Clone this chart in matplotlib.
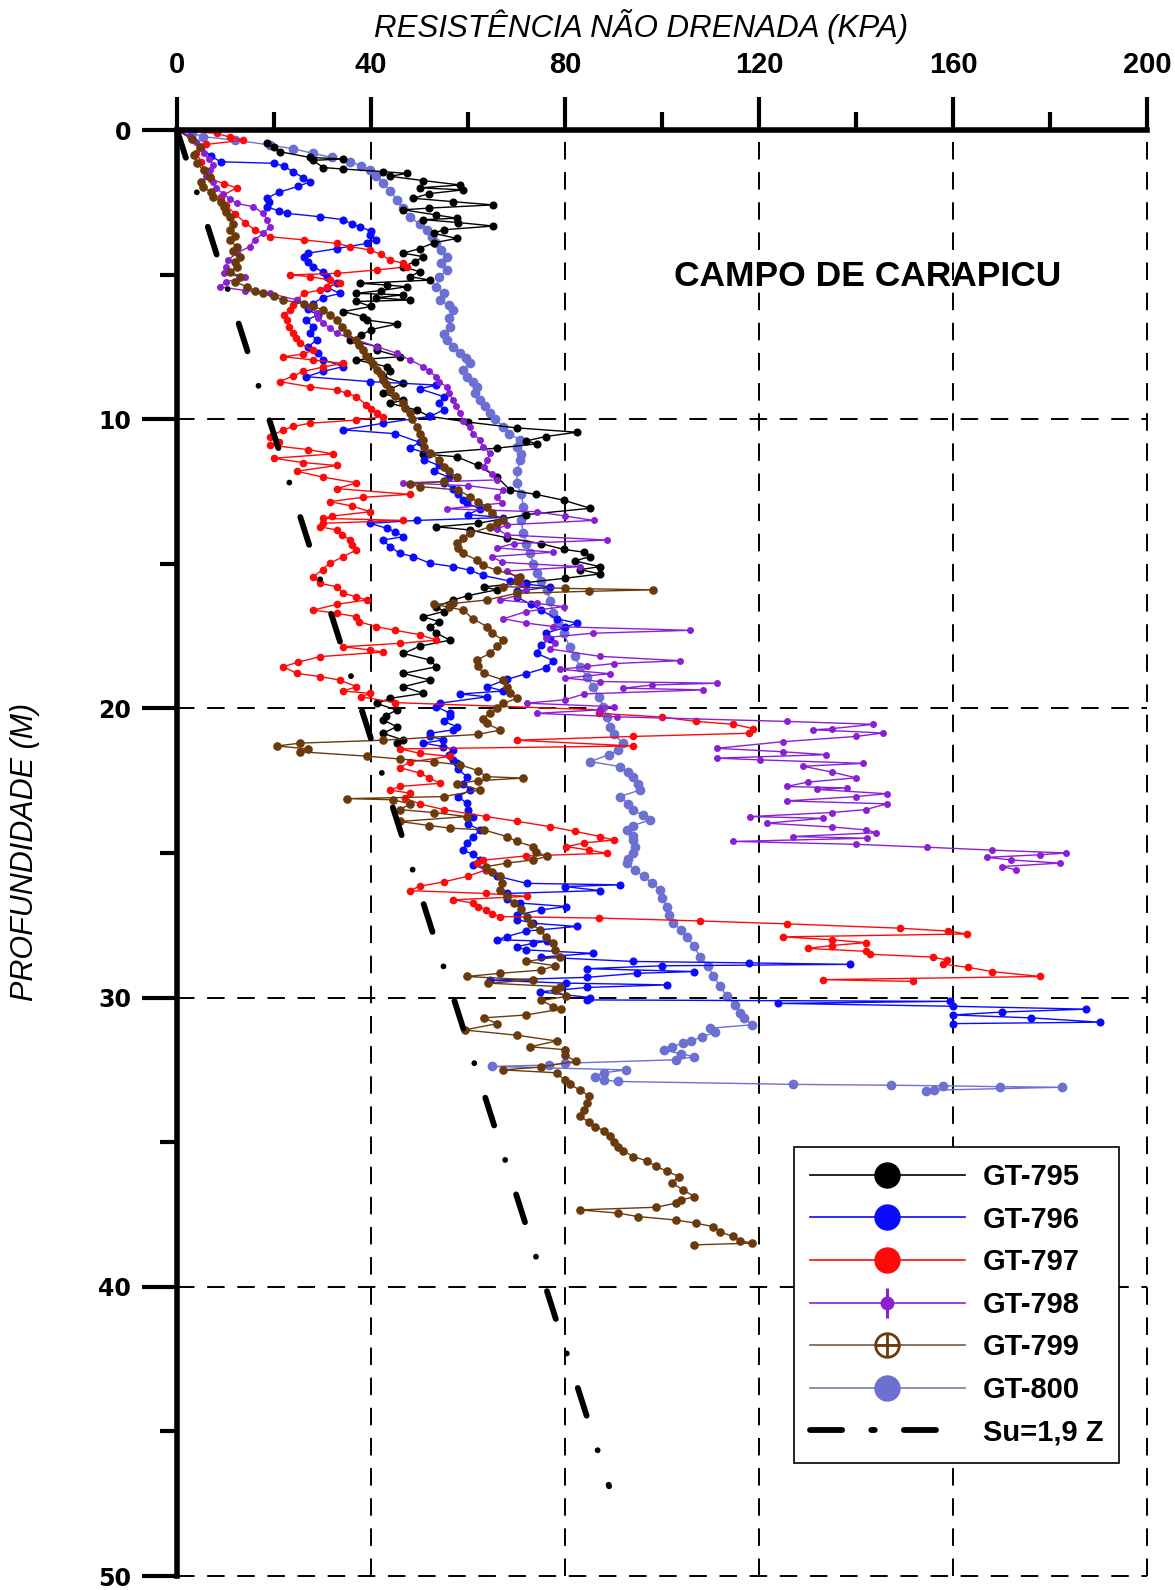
import numpy as np
import matplotlib.pyplot as plt
from matplotlib.lines import Line2D
from matplotlib.legend_handler import HandlerTuple

# pairs of (depth m, Su kPa)
gt795 = np.array([
    [0.46, 18.5], [0.6, 20], [0.75, 21.2], [0.95, 27.4], [1.0, 34.3], [1.05, 28], [1.3, 30.2],
    [1.35, 34.3], [1.44, 42.5], [1.5, 47.4], [1.6, 43.9], [1.75, 50.8], [1.9, 58.4], [2.0, 50.1],
    [2.07, 59], [2.2, 52], [2.36, 48.7], [2.48, 57], [2.59, 65.2], [2.7, 52], [2.76, 46.7],
    [2.94, 53.5], [3.05, 57.7], [3.1, 50.8], [3.2, 58], [3.32, 65.2], [3.45, 55], [3.57, 52.9],
    [3.75, 57.7], [3.9, 53], [4.1, 50], [4.26, 46.7], [4.38, 50.8], [4.55, 49], [4.73, 46.7],
    [4.9, 50], [5.07, 48], [5.19, 52.2], [5.3, 37.7], [5.36, 43.2], [5.42, 47.4], [5.55, 42],
    [5.65, 37], [5.7, 46.7], [5.8, 41], [5.88, 48], [5.93, 37], [6.1, 40], [6.28, 34.3],
    [6.45, 38.4], [6.57, 39.1], [6.71, 45.3], [6.9, 40], [7.1, 38], [7.26, 35.7], [7.49, 41.2],
    [7.61, 41.2], [7.84, 46], [7.95, 37], [8.18, 43.2], [8.35, 44], [8.53, 42.5], [8.76, 46.7],
    [8.95, 44], [9.1, 42.5], [9.34, 46.7], [9.45, 43.9], [9.68, 49.4], [9.9, 52], [10.1, 60],
    [10.3, 70], [10.45, 82.4], [10.6, 76], [10.75, 72], [10.85, 74.2], [11.0, 66], [11.2, 50.8],
    [11.3, 57.7], [11.6, 62], [12.0, 66], [12.45, 68.7], [12.6, 74], [12.8, 79.7], [13.08, 85.2],
    [13.3, 72], [13.6, 62], [13.72, 53.5], [13.83, 60.4], [14.1, 68], [14.3, 75], [14.5, 79.7],
    [14.6, 84], [14.75, 85.2], [14.9, 82], [15.1, 87.2], [15.2, 83.1], [15.35, 87.2], [15.5, 80],
    [15.65, 72], [15.8, 63.2], [15.9, 65.9], [16.1, 60], [16.25, 57], [16.48, 53.5], [16.65, 55],
    [16.83, 50.8], [17.0, 54], [17.17, 52.2], [17.4, 53.5], [17.64, 56.3], [17.85, 50],
    [18.1, 46.7], [18.33, 52.2], [18.56, 53.5], [18.79, 46.7], [19.02, 52.2], [19.25, 46.7],
    [19.48, 50.8], [19.65, 44], [19.83, 41.2], [20.06, 45.3], [20.25, 43], [20.4, 42.5],
    [20.63, 45.3], [20.86, 42.5], [21.1, 46.7], [21.2, 45.3],
])

gt796 = np.array([
    [0.0, 0], [0.3, 3], [0.6, 5], [0.9, 7], [1.1, 9], [1.15, 20], [1.25, 22], [1.45, 24],
    [1.65, 26], [1.79, 27.4], [1.95, 25], [2.15, 21], [2.36, 18.5], [2.5, 19], [2.65, 18.5],
    [2.8, 21], [2.88, 22.6], [3.0, 29.5], [3.1, 34.3], [3.25, 36], [3.34, 37.7], [3.5, 40],
    [3.63, 39.8], [3.8, 41], [3.92, 39.1], [4.1, 33], [4.26, 27], [4.38, 26.1], [4.55, 27],
    [4.73, 28.1], [4.9, 30], [5.07, 30.9], [5.3, 32.9], [5.45, 31], [5.65, 33.6], [5.8, 30],
    [6.0, 28], [6.2, 27], [6.4, 29], [6.57, 26.7], [6.8, 28], [7.03, 27.4], [7.26, 28.8],
    [7.5, 27], [7.7, 29], [7.95, 30.2], [8.18, 34.3], [8.35, 30], [8.53, 26.7], [8.7, 39.8],
    [8.82, 53.5], [8.95, 50], [9.22, 55], [9.45, 54], [9.68, 55], [9.9, 52.2], [10.14, 42.5],
    [10.37, 34.3], [10.5, 45], [10.8, 50], [11.0, 48], [11.2, 52], [11.4, 51], [11.6, 54],
    [11.8, 53], [12.0, 56], [12.2, 55], [12.4, 57], [12.6, 58], [12.8, 59], [12.9, 59.7],
    [13.1, 62.5], [13.3, 60], [13.4, 67.3], [13.5, 49.4], [13.6, 39.8], [13.77, 43.2],
    [13.9, 45], [14.06, 46.7], [14.18, 42.5], [14.41, 43.9], [14.64, 46], [14.75, 48.7],
    [14.98, 52.2], [15.1, 57], [15.22, 60.4], [15.4, 63], [15.6, 68.7], [15.7, 72], [15.8, 76.9],
    [15.95, 70], [16.15, 70], [16.4, 73], [16.6, 75], [16.9, 78.3], [17.05, 82.4], [17.2, 80],
    [17.4, 76], [17.6, 77], [17.8, 75], [18.1, 74.2], [18.35, 77.6], [18.6, 76], [18.8, 72],
    [19.0, 68], [19.25, 64], [19.4, 67.3], [19.5, 58.4], [19.6, 63.9], [19.82, 54.2],
    [19.94, 53.5], [20.17, 56.3], [20.28, 56.3], [20.45, 55], [20.63, 57.7], [20.74, 57],
    [20.86, 52.2], [20.97, 52.2], [21.09, 54.9], [21.2, 50.8], [21.32, 54.9], [21.43, 57],
    [21.6, 56], [21.79, 57], [21.9, 57.7], [22.1, 58], [22.36, 59.7], [22.6, 59], [22.82, 60.4],
    [23.05, 58], [23.28, 59.7], [23.5, 60], [23.74, 61.1], [24.0, 60], [24.2, 62.5], [24.45, 61],
    [24.66, 59.7], [24.89, 59.0], [25.05, 61], [25.24, 62.5], [25.4, 61], [25.58, 63.8],
    [25.8, 66], [26.05, 72.1], [26.1, 91.3], [26.16, 80], [26.3, 87.2], [26.4, 68], [26.6, 68],
    [26.73, 70.7], [26.85, 80.3], [26.97, 75], [27.15, 70], [27.3, 70], [27.43, 73.5],
    [27.54, 82.4], [27.7, 72], [27.89, 68], [28.0, 66], [28.05, 76.2], [28.12, 73.5],
    [28.24, 70], [28.35, 72], [28.47, 85.8], [28.6, 75], [28.75, 94], [28.8, 118], [28.85, 138.7],
    [28.9, 100], [29.0, 84.6], [29.1, 106.7], [29.16, 94.8], [29.3, 84.5], [29.4, 64.5],
    [29.5, 80.3], [29.56, 101], [29.65, 84.5], [29.8, 74.8], [30.0, 85.2], [30.08, 84.6],
    [30.13, 159.4], [30.2, 124], [30.3, 160], [30.4, 187.5], [30.5, 170], [30.6, 160],
    [30.7, 176], [30.85, 190.3], [30.9, 160],
])

gt797 = np.array([
    [0.0, 0], [0.12, 8.2], [0.25, 11], [0.35, 13.7], [0.5, 6], [0.8, 4], [1.1, 5], [1.4, 5.5],
    [1.7, 7], [1.85, 9.6], [2.0, 12.3], [2.3, 9], [2.6, 10], [2.9, 12], [3.2, 14], [3.45, 16],
    [3.69, 19.2], [3.8, 26.1], [3.92, 32.9], [4.03, 35.7], [4.15, 39.8], [4.3, 42], [4.5, 43.9],
    [4.61, 46.7], [4.73, 47.4], [4.84, 41.2], [4.96, 32.9], [5.01, 23.3], [5.07, 27.4],
    [5.19, 31.5], [5.3, 33.6], [5.42, 31], [5.53, 29.5], [5.65, 26.1], [5.88, 24.7], [6.05, 24],
    [6.22, 23.3], [6.4, 22], [6.57, 22.6], [6.8, 23], [7.03, 24], [7.2, 24.5], [7.38, 25.4],
    [7.61, 28.1], [7.75, 26], [7.84, 21.9], [7.95, 28], [8.07, 34.3], [8.2, 30], [8.35, 26],
    [8.5, 24], [8.7, 21.2], [8.88, 27.4], [8.99, 32.9], [9.1, 35], [9.22, 37], [9.5, 39],
    [9.65, 40], [9.8, 41.2], [9.91, 42.5], [10.03, 37], [10.14, 27.4], [10.25, 24],
    [10.37, 21.9], [10.6, 19.2], [10.8, 21], [10.9, 19.2], [11.05, 27], [11.2, 32.2],
    [11.35, 19.9], [11.5, 26], [11.6, 32.9], [11.8, 24.7], [12.0, 30], [12.2, 37], [12.4, 33],
    [12.6, 48], [12.7, 38.4], [12.85, 31.5], [13.0, 36], [13.2, 39.8], [13.35, 32],
    [13.43, 30.2], [13.5, 46.7], [13.6, 30], [13.72, 29.5], [13.83, 32.9], [14.0, 34],
    [14.18, 35.7], [14.35, 36], [14.52, 37.0], [14.75, 34.3], [14.98, 31.5], [15.2, 30],
    [15.45, 28.1], [15.68, 29.5], [15.79, 32.9], [16.02, 34.3], [16.14, 37.0], [16.25, 39.1],
    [16.4, 33], [16.6, 28.1], [16.71, 32.9], [16.83, 37.0], [17.0, 37.5], [17.17, 41],
    [17.3, 45], [17.45, 50], [17.64, 53.5], [17.75, 46], [17.87, 34.3], [17.98, 39.8],
    [18.05, 42.5], [18.21, 29.5], [18.4, 25], [18.56, 21.9], [18.79, 24.7], [18.9, 29.5],
    [19.02, 33.6], [19.25, 37.0], [19.4, 34.3], [19.48, 39.8], [19.6, 38], [19.8, 45],
    [20.05, 87.2], [20.17, 87], [20.3, 100], [20.45, 107], [20.55, 114.7], [20.7, 118.8],
    [20.86, 118], [20.97, 94], [21.1, 70], [21.3, 94.1], [21.4, 46], [21.55, 50], [21.66, 56.3],
    [21.85, 48], [22.05, 46], [22.24, 50.1], [22.4, 52], [22.59, 54.2], [22.7, 46],
    [22.82, 43.9], [22.93, 48], [23.1, 47], [23.3, 50], [23.5, 55], [23.74, 63.8], [23.9, 70],
    [24.09, 76.9], [24.25, 82], [24.43, 87.2], [24.55, 90], [24.65, 84], [24.78, 80.3],
    [24.9, 85], [25.01, 88.6], [25.1, 72], [25.25, 63], [25.35, 61.8], [25.58, 63.8], [25.8, 60],
    [26.0, 55], [26.15, 50], [26.3, 48], [26.4, 63.8], [26.5, 72.1], [26.62, 57], [26.73, 61.1],
    [26.85, 62], [26.97, 63.8], [27.1, 65], [27.2, 66.6], [27.25, 87], [27.35, 107.8],
    [27.45, 125.7], [27.6, 149], [27.7, 159], [27.8, 162.8], [27.9, 125], [28.0, 135],
    [28.1, 142], [28.2, 135], [28.3, 130], [28.4, 142], [28.5, 142.9], [28.6, 155.9],
    [28.7, 158.7], [28.85, 158], [28.95, 163], [29.1, 168], [29.27, 178], [29.38, 133.2],
    [29.44, 151.8],
])

gt798 = np.array([
    [0.0, 0], [0.2, 2.7], [0.4, 4], [0.6, 4.8], [0.8, 5.5], [1.0, 6.5], [1.2, 7.5], [1.4, 6.8],
    [1.6, 6], [1.8, 7.5], [2.0, 8], [2.2, 9.5], [2.4, 11], [2.54, 12.3], [2.65, 15.7],
    [2.88, 17.8], [3.1, 18.5], [3.34, 19.2], [3.57, 17.8], [3.8, 16], [4.03, 15.0], [4.26, 12.3],
    [4.5, 10.5], [4.75, 10], [4.96, 9.6], [5.1, 14], [5.25, 10], [5.42, 8.9], [5.55, 14],
    [5.65, 19.2], [5.88, 24.7], [6.11, 27.4], [6.34, 28.8], [6.5, 29], [6.69, 30.2],
    [6.85, 31.5], [7.03, 32.9], [7.26, 37.0], [7.49, 41.2], [7.72, 45.3], [7.95, 48.0],
    [8.18, 50.8], [8.35, 52], [8.53, 53.5], [8.7, 54], [8.88, 55.6], [9.1, 56], [9.34, 57.0],
    [9.55, 57.5], [9.8, 58.4], [10.05, 59], [10.26, 60.4], [10.5, 61], [10.72, 62.5],
    [10.95, 63], [11.18, 64.5], [11.4, 64], [11.64, 63.2], [11.9, 65], [12.1, 65.9],
    [12.2, 46.7], [12.3, 60], [12.45, 67.3], [12.7, 66], [12.9, 67], [13.1, 55.6], [13.2, 74.2],
    [13.35, 80], [13.5, 85.9], [13.65, 68], [13.8, 66], [14.0, 68], [14.18, 88.6], [14.3, 69.4],
    [14.45, 66], [14.6, 77.6], [14.75, 65], [14.95, 67], [15.1, 83], [15.25, 68], [15.45, 70],
    [15.7, 71], [15.9, 72], [16.1, 70], [16.25, 66.6], [16.37, 74.2], [16.48, 79.7],
    [16.65, 72], [16.9, 67.3], [17.05, 72], [17.17, 77.6], [17.3, 105.8], [17.4, 85.8],
    [17.55, 76], [17.75, 78], [17.95, 77], [18.2, 87.2], [18.35, 103.7], [18.45, 90],
    [18.55, 84.5], [18.65, 79], [18.8, 89.3], [18.95, 80], [19.07, 87.2], [19.13, 111.3],
    [19.19, 98], [19.3, 92], [19.36, 108.5], [19.5, 84], [19.7, 80], [19.82, 72.1], [19.94, 90],
    [20.05, 87.2], [20.17, 74.2], [20.29, 90.7], [20.45, 125.7], [20.55, 143.6], [20.7, 135],
    [20.74, 131.2], [20.85, 145.6], [20.97, 140], [21.15, 125], [21.38, 111.3], [21.5, 125],
    [21.6, 133.9], [21.72, 111.3], [21.78, 120.2], [21.9, 141.5], [22.0, 129.1], [22.2, 135],
    [22.4, 140], [22.55, 130], [22.7, 125.7], [22.75, 138.1], [22.8, 131.9], [22.95, 146.3],
    [23.05, 140], [23.2, 125.7], [23.3, 146.3], [23.5, 142], [23.6, 135], [23.74, 118.1],
    [23.8, 133.2], [23.97, 121.6], [24.1, 135], [24.2, 142], [24.3, 144.2], [24.43, 127],
    [24.49, 142.2], [24.6, 114.7], [24.7, 140], [24.8, 154.6], [24.9, 168], [25.0, 183.4],
    [25.06, 178], [25.15, 167], [25.24, 172], [25.35, 182], [25.47, 170], [25.58, 173],
])

gt799 = np.array([
    [0.0, 0], [0.3, 3], [0.58, 4.7], [0.85, 3.5], [1.15, 4.1], [1.4, 5.5], [1.61, 6.8], [1.8, 5],
    [1.96, 5.4], [2.15, 7], [2.3, 7.5], [2.5, 9], [2.65, 9.6], [2.85, 10], [3.0, 10.9],
    [3.25, 11.5], [3.46, 10.9], [3.65, 12], [3.8, 10.9], [4.03, 12.3], [4.2, 11.5], [4.38, 13.0],
    [4.55, 12], [4.73, 12.3], [4.9, 11], [5.07, 13.0], [5.25, 12], [5.42, 14.4], [5.55, 16],
    [5.65, 17.8], [5.75, 20], [5.88, 21.9], [6.0, 26.1], [6.1, 28], [6.22, 30.2], [6.4, 31.5],
    [6.57, 32.9], [6.8, 34], [7.03, 35.0], [7.26, 37.0], [7.45, 37.5], [7.61, 38.4], [7.8, 39],
    [7.95, 39.8], [8.1, 40.5], [8.3, 41.2], [8.45, 42], [8.64, 42.5], [8.8, 43], [8.99, 43.9],
    [9.2, 45], [9.45, 46.7], [9.6, 47], [9.8, 48.0], [10.0, 48.5], [10.26, 49.4], [10.5, 50],
    [10.72, 50.8], [10.95, 51], [11.18, 52.2], [11.4, 54], [11.64, 55.0], [11.8, 56],
    [11.99, 57.7], [12.15, 55], [12.25, 48], [12.33, 50.1], [12.45, 58], [12.68, 60.4],
    [12.85, 62], [13.03, 63.9], [13.25, 65], [13.49, 67.3], [13.6, 66], [13.72, 64.5],
    [13.95, 60.4], [14.1, 59], [14.29, 57.7], [14.45, 58], [14.64, 59.0], [14.87, 61.8],
    [15.05, 63], [15.22, 65.9], [15.45, 70.7], [15.6, 70], [15.79, 67.3], [15.85, 80],
    [15.9, 98.2], [15.95, 85], [16.02, 70], [16.25, 63.9], [16.37, 57.0], [16.4, 52.9],
    [16.5, 56], [16.6, 59.0], [16.9, 61], [17.17, 63.9], [17.4, 65], [17.64, 67.3], [17.85, 66],
    [18.1, 64.5], [18.33, 61.8], [18.55, 62], [18.79, 63.2], [19.02, 67.3], [19.25, 68],
    [19.48, 68.7], [19.65, 70], [19.83, 67.3], [20.0, 66], [20.17, 64.5], [20.35, 63],
    [20.52, 63.9], [20.75, 66.6], [20.9, 62], [21.1, 42.5], [21.2, 25.4], [21.3, 20.6],
    [21.4, 27], [21.5, 25.4], [21.65, 39.1], [21.75, 46], [21.85, 52.9], [21.95, 58.4],
    [22.15, 62], [22.36, 63.8], [22.41, 71.4], [22.5, 62], [22.6, 57.7], [22.82, 62.5],
    [23.05, 55], [23.12, 35], [23.16, 44.6], [23.3, 48], [23.5, 46], [23.6, 52.9],
    [23.74, 59.7], [23.91, 46.0], [24.05, 52], [24.14, 56.3], [24.2, 63.2], [24.43, 68.0],
    [24.6, 70], [24.78, 73.5], [24.95, 74], [25.12, 76.2], [25.24, 73.5], [25.35, 68],
    [25.47, 63.8], [25.65, 65], [25.81, 66.6], [26.05, 67], [26.28, 66.6], [26.5, 68],
    [26.73, 69.4], [26.95, 71], [27.2, 72.1], [27.45, 73], [27.66, 74.8], [27.9, 76],
    [28.12, 77.6], [28.35, 78], [28.58, 78.9], [28.75, 72], [28.9, 78], [29.05, 75],
    [29.16, 66.6], [29.27, 59.7], [29.39, 73.5], [29.5, 64.1], [29.62, 79.0], [29.75, 78],
    [29.96, 80.3], [30.1, 75.1], [30.31, 77.6], [30.4, 79.1], [30.6, 72], [30.7, 63.3],
    [30.9, 66], [31.12, 59.3], [31.3, 70], [31.5, 78.3], [31.7, 72.8], [31.8, 79.9], [32.0, 80],
    [32.2, 82.2], [32.4, 75], [32.5, 67.2], [32.6, 78.3], [32.85, 79.9], [33.0, 81],
    [33.19, 83.0], [33.4, 85], [33.65, 84.6], [33.9, 84], [34.11, 83.0], [34.3, 85],
    [34.46, 86.2], [34.6, 88], [34.8, 89.3], [35.0, 90], [35.15, 90.9], [35.3, 92], [35.5, 94.1],
    [35.65, 97], [35.84, 98.8], [36.0, 101], [36.19, 103.5], [36.4, 102], [36.65, 104.3],
    [36.88, 106.7], [37.0, 104], [37.11, 102.8], [37.25, 98.8], [37.34, 83], [37.45, 90.9],
    [37.57, 95], [37.69, 102.8], [37.8, 107], [37.92, 110.6], [38.1, 112], [38.26, 114.6],
    [38.4, 116], [38.49, 118.5], [38.55, 106.7],
])

gt800 = np.array([
    [0.0, 0], [0.1, 3], [0.23, 5.4], [0.35, 12], [0.52, 19.2], [0.65, 24], [0.81, 28.1],
    [0.95, 32], [1.09, 35.7], [1.25, 38], [1.38, 39.8], [1.6, 41], [1.84, 42.5], [2.1, 44],
    [2.42, 45.3], [2.7, 46.5], [3.0, 48.0], [3.25, 50], [3.46, 51.5], [3.7, 52.5], [3.92, 53.5],
    [4.15, 54.5], [4.38, 55.6], [4.6, 54.5], [4.84, 55.6], [5.1, 54], [5.42, 53.5], [5.65, 55],
    [5.88, 54.2], [6.05, 56], [6.22, 57.0], [6.5, 56], [6.8, 56.3], [7.05, 55], [7.26, 55.6],
    [7.5, 57], [7.72, 58.4], [7.9, 59.5], [8.07, 60.4], [8.3, 59], [8.53, 59.7], [8.7, 61],
    [8.88, 61.8], [9.1, 61.5], [9.34, 62.5], [9.55, 63.5], [9.8, 64.5], [10.0, 65.5],
    [10.26, 67.3], [10.5, 68.5], [10.72, 70.7], [10.95, 70], [11.2, 71], [11.41, 70.7],
    [11.8, 70.2], [12.22, 70.0], [12.6, 71], [13.03, 71.4], [13.5, 71], [13.95, 71.4],
    [14.3, 72], [14.64, 72.8], [15.0, 73.5], [15.33, 74.2], [15.6, 75], [15.91, 76.2],
    [16.3, 77], [16.71, 77.6], [17.05, 78.5], [17.41, 79.7], [17.87, 81.0], [18.2, 82],
    [18.56, 83.1], [18.9, 84.5], [19.25, 85.8], [19.6, 87], [19.94, 87.9], [20.3, 88.6],
    [20.63, 89.3], [20.9, 90], [21.2, 92.0], [21.45, 91], [21.6, 89], [21.84, 85.2],
    [22.01, 91.3], [22.2, 93], [22.36, 94.1], [22.6, 95], [22.82, 95.5], [23.05, 91.3],
    [23.3, 93], [23.51, 94.1], [23.7, 96], [23.86, 97.5], [24.05, 94], [24.2, 92.7], [24.4, 94],
    [24.55, 94.1], [24.8, 94.5], [25.0, 94.1], [25.2, 93], [25.35, 92.7], [25.6, 94.5],
    [25.81, 96.2], [26.05, 98], [26.28, 99.6], [26.55, 100], [26.85, 101.0], [27.15, 101.5],
    [27.43, 102.3], [27.65, 104], [27.89, 105.1], [28.2, 106.5], [28.58, 107.8], [28.9, 109.5],
    [29.27, 110.6], [29.6, 112], [29.96, 113.3], [30.25, 115], [30.54, 116.1], [30.7, 117],
    [30.94, 118.5], [31.06, 109.9], [31.2, 111], [31.35, 108.3], [31.5, 106], [31.58, 104.3],
    [31.7, 102], [31.81, 100.4], [31.95, 104], [32.04, 106.7], [32.15, 102.8], [32.27, 79.9],
    [32.33, 76.7], [32.38, 64.9], [32.5, 92.5], [32.6, 88], [32.73, 86.2], [32.85, 88],
    [32.9, 90.9], [33.0, 127], [33.03, 147.3], [33.05, 158], [33.08, 169.7], [33.1, 182.4],
    [33.2, 156], [33.22, 154.5],
])

# Su = 1,9 z reference line, end points
su_line_depth = [0.0, 46.9]
su_line_su = [0.0, 89.1]

labels = ['GT-795', 'GT-796', 'GT-797', 'GT-798', 'GT-799', 'GT-800', 'Su=1,9 Z']
c795, c796, c797 = '#000000', '#0a0aff', '#ff0a0a'
c798, c799, c800 = '#8a1fd6', '#6b3a0c', '#6b70d2'

plt.rcParams['font.family'] = ['Liberation Sans', 'DejaVu Sans']

fig = plt.figure(figsize=(11.75, 15.9), dpi=100)
ax = fig.add_axes([177 / 1175, 14 / 1590, 970 / 1175, 1446 / 1590])

series = [
    (gt800, c800, 6.0),
    (gt795, c795, 4.8),
    (gt796, c796, 4.8),
    (gt797, c797, 4.5),
    (gt798, c798, 4.0),
    (gt799, c799, 5.2),
]
for data, col, ms in series:
    ax.plot(data[:, 1], data[:, 0], color=col, lw=1.0, marker='o', ms=ms, mec=col, mfc=col)

ax.plot(su_line_su, su_line_depth, color='k', lw=4.2, dashes=(5.0, 6.2, 0.01, 6.2),
        dash_capstyle='round', zorder=5)

ax.set_xlim(0, 200)
ax.set_ylim(50, 0)
ax.xaxis.tick_top()
ax.set_xticks(np.arange(0, 201, 40))
ax.set_xticks(np.arange(20, 200, 40), minor=True)
ax.set_yticks(np.arange(0, 51, 10))
ax.set_yticks(np.arange(5, 50, 10), minor=True)

for x in np.arange(40, 201, 40):
    ax.axvline(x, color='k', lw=1.4, ls=(0, (9, 6.5)), clip_on=False, zorder=0)
for y in np.arange(10, 51, 10):
    ax.axhline(y, color='k', lw=1.4, ls=(0, (9, 6.5)), clip_on=False, zorder=0)

for side in ['right', 'bottom']:
    ax.spines[side].set_visible(False)
for side in ['left', 'top']:
    ax.spines[side].set_linewidth(4)

ax.tick_params(axis='x', which='major', direction='out', length=24, width=3, pad=13,
               top=True, bottom=False, labeltop=True, labelbottom=False)
ax.tick_params(axis='x', which='minor', direction='out', length=13, width=3,
               top=True, bottom=False)
ax.tick_params(axis='y', which='major', direction='out', length=25, width=3, pad=8,
               left=True, right=False)
ax.tick_params(axis='y', which='minor', direction='out', length=12, width=3,
               left=True, right=False)
for lab in ax.get_xticklabels():
    lab.set_fontweight('bold')
    lab.set_fontsize(21)
for lab in ax.get_yticklabels():
    lab.set_fontweight('bold')
    lab.set_fontsize(17)
    lab.set_family('DejaVu Sans')

fig.text(641 / 1175, 1 - 27 / 1590, 'RESISTÊNCIA NÃO DRENADA (KPA)', ha='center', va='center',
         fontsize=22.5, style='italic')
fig.text(25 / 1175, 1 - 852 / 1590, 'PROFUNDIDADE (M)', ha='center', va='center',
         rotation=90, fontsize=22, style='italic')
ax.text(102.5, 5.08, 'CAMPO DE CARAPICU', ha='left', va='center', fontsize=25.5,
        fontweight='bold')

# legend with big markers like the original
handles = [
    Line2D([], [], color=c795, lw=1.2, marker='o', ms=18, mfc=c795, mec=c795),
    Line2D([], [], color=c796, lw=1.2, marker='o', ms=18, mfc=c796, mec=c796),
    Line2D([], [], color=c797, lw=1.2, marker='o', ms=18, mfc=c797, mec=c797),
    (Line2D([], [], color=c798, lw=1.2, marker='o', ms=9, mfc=c798, mec=c798),
     Line2D([], [], ls='none', marker='|', ms=22, mew=2.2, color=c798)),
    (Line2D([], [], color='#7a5a48', lw=1.2, marker='o', ms=17, mfc='none', mec=c799, mew=2),
     Line2D([], [], ls='none', marker='+', ms=17, mew=2, color=c799)),
    Line2D([], [], color='#7c7ca8', lw=1.2, marker='o', ms=18, mfc=c800, mec=c800),
    Line2D([], [], color='k', lw=4.2, dashes=(5.5, 5.0, 0.6, 5.0), dash_capstyle='round'),
]
leg = ax.legend(handles, labels, loc='upper left', bbox_to_anchor=(0.636, 0.2967),
                borderaxespad=0, handlelength=5.3, handletextpad=0.62, labelspacing=0.5,
                borderpad=0.55, fancybox=False, framealpha=1, edgecolor='k',
                prop={'family': 'Liberation Sans', 'weight': 'bold', 'size': 21},
                handler_map={tuple: HandlerTuple(ndivide=1)})
leg.get_frame().set_linewidth(1.2)
leg.set_zorder(10)

fig.savefig('out.png', dpi=100)
